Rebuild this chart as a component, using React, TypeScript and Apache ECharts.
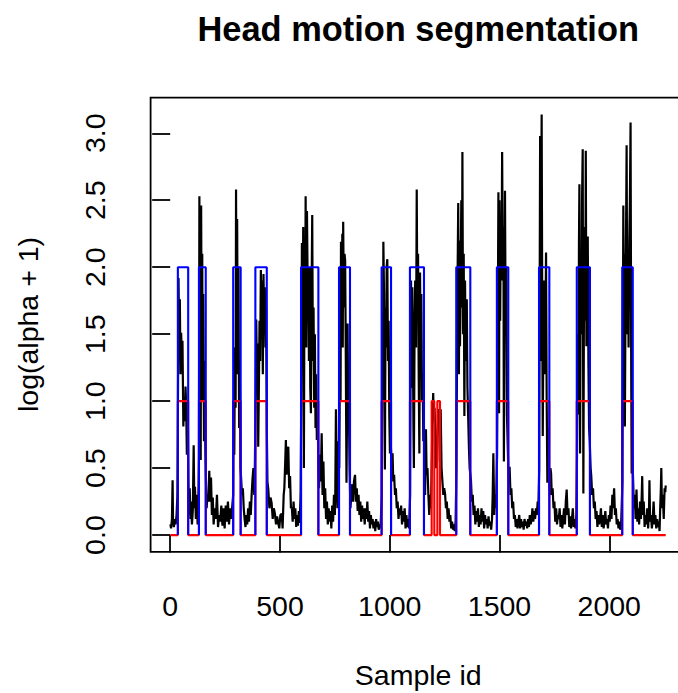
import React, { useEffect, useRef } from "react";
import * as echarts from "echarts";

// ---------- data ----------
const xTicks = [0, 500, 1000, 1500, 2000];
const yTicks = [0, 0.5, 1, 1.5, 2, 2.5, 3];

const firstSample = 1;
const lastSample = 2257;

// motion segments (blue boxes at 2, red at 1)
const motionStart = [35, 131, 287, 388, 596, 769, 963, 1092, 1303, 1488, 1680, 1852, 2059];
const motionEnd = [82, 162, 321, 440, 675, 819, 1006, 1156, 1367, 1540, 1727, 1912, 2107];

// segments flagged only in red
const redOnlyStart = [1191, 1217];
const redOnlyEnd = [1203, 1229];

// log(alpha + 1) per sample id
const logAlpha: [number, number][] = [
  [1, 0.08], [4, 0.05], [8, 0.12], [11, 0.41], [13, 0.1], [17, 0.06], [21, 0.12], [25, 0.08], [29, 0.15], [33, 0.3],
  [36, 1.2], [38, 1.92], [41, 1.4], [44, 1.76], [47, 1.2], [50, 1.51], [53, 1.3], [56, 1.45], [60, 0.81], [63, 1.0], [66, 0.85], [70, 1.11], [73, 0.95], [76, 0.6], [80, 0.95], [83, 0.4],
  [86, 0.15], [89, 0.35], [92, 0.12], [95, 0.25], [99, 0.08], [103, 0.18], [107, 0.67], [110, 0.2], [113, 0.36], [117, 0.12], [121, 0.3], [125, 0.08], [128, 0.2],
  [131, 0.6], [133, 2.53], [135, 1.2], [137, 2.2], [139, 0.56], [141, 2.46], [143, 1.5], [146, 2.1], [148, 1.0], [151, 1.8], [154, 0.7], [157, 1.3], [160, 0.66], [163, 0.4],
  [166, 0.2], [170, 0.3], [174, 0.25], [178, 0.48], [182, 0.25], [186, 0.43], [190, 0.15], [194, 0.28], [198, 0.08], [203, 0.2], [208, 0.12], [213, 0.3], [218, 0.06], [223, 0.15], [228, 0.1], [233, 0.22], [238, 0.07], [243, 0.2], [248, 0.05], [253, 0.22], [258, 0.1], [263, 0.25], [268, 0.08], [273, 0.2], [278, 0.12], [283, 0.22],
  [287, 0.3], [289, 1.0], [292, 0.6], [295, 1.4], [298, 0.95], [300, 2.58], [302, 1.5], [305, 2.36], [308, 1.2], [311, 2.0], [314, 0.8], [317, 1.3], [320, 0.5],
  [323, 0.43], [327, 0.3], [331, 0.35], [335, 0.2], [339, 0.12], [343, 0.06], [347, 0.15], [351, 0.08], [355, 0.2], [359, 0.1], [363, 0.25], [367, 0.15], [371, 0.3], [375, 0.42], [379, 0.5], [383, 0.3], [386, 0.55],
  [389, 1.0], [392, 1.61], [395, 1.2], [398, 1.43], [401, 0.66], [404, 1.1], [407, 1.6], [410, 1.3], [413, 1.98], [416, 1.5], [419, 1.9], [422, 1.2], [425, 1.95], [428, 1.6], [431, 1.85], [434, 1.4], [437, 1.7], [440, 0.8],
  [443, 0.4], [447, 0.34], [452, 0.2], [457, 0.28], [462, 0.24], [467, 0.12], [472, 0.2], [477, 0.16], [482, 0.08], [487, 0.14], [492, 0.09], [497, 0.05], [502, 0.15], [508, 0.16], [512, 0.05], [517, 0.3], [520, 0.35], [524, 0.55], [527, 0.71], [530, 0.45], [534, 0.62], [538, 0.66], [542, 0.35], [546, 0.44], [550, 0.2], [554, 0.21], [558, 0.1], [562, 0.25], [566, 0.12], [570, 0.2], [574, 0.06], [578, 0.15], [582, 0.07], [586, 0.18], [590, 0.09], [594, 0.3],
  [597, 1.0], [600, 2.18], [603, 1.5], [606, 2.3], [609, 0.5], [612, 2.2], [615, 1.7], [617, 2.53], [620, 1.4], [623, 2.42], [626, 1.9], [629, 2.0], [632, 1.3], [635, 2.0], [638, 1.1], [641, 0.91], [644, 1.8], [647, 2.39], [650, 1.3], [653, 1.7], [656, 0.95], [659, 1.5], [662, 0.8], [665, 1.2], [668, 0.71], [672, 0.9], [675, 0.5],
  [678, 0.35], [682, 0.6], [686, 0.4], [690, 0.76], [694, 0.3], [698, 0.55], [702, 0.2], [706, 0.35], [710, 0.12], [714, 0.25], [718, 0.08], [722, 0.2], [726, 0.1], [730, 0.18], [734, 0.05], [738, 0.22], [742, 0.1], [746, 0.3], [750, 0.15], [752, 0.3], [755, 0.94], [758, 0.55], [762, 0.2], [766, 0.7],
  [770, 0.5], [773, 1.2], [776, 1.0], [778, 2.19], [781, 1.6], [784, 2.25], [786, 1.4], [788, 2.34], [791, 1.7], [794, 2.1], [797, 2.05], [800, 1.3], [803, 0.39], [806, 1.0], [808, 1.58], [811, 0.84], [814, 0.95], [817, 0.5],
  [821, 0.2], [825, 0.3], [829, 0.38], [833, 0.25], [837, 0.4], [842, 0.45], [846, 0.25], [850, 0.35], [854, 0.18], [858, 0.3], [862, 0.15], [866, 0.25], [870, 0.1], [874, 0.22], [878, 0.12], [882, 0.2], [886, 0.08], [890, 0.2], [894, 0.12], [898, 0.25], [902, 0.1], [906, 0.18], [910, 0.05], [914, 0.15], [918, 0.08], [922, 0.12], [926, 0.05], [930, 0.1], [934, 0.03], [938, 0.12], [942, 0.06], [946, 0.1], [950, 0.04], [954, 0.08], [958, 0.05],
  [964, 0.3], [967, 1.5], [969, 1.0], [971, 2.19], [974, 1.8], [976, 1.2], [978, 0.49], [981, 1.7], [984, 1.4], [986, 2.0], [989, 2.06], [992, 1.3], [995, 1.6], [998, 0.9], [1001, 0.61], [1004, 0.7],
  [1010, 0.5], [1013, 0.61], [1016, 0.4], [1020, 0.45], [1024, 0.3], [1028, 0.35], [1032, 0.2], [1036, 0.25], [1040, 0.12], [1044, 0.2], [1048, 0.15], [1052, 0.22], [1056, 0.08], [1060, 0.18], [1064, 0.1], [1068, 0.2], [1072, 0.05], [1076, 0.15], [1080, 0.06], [1084, 0.12], [1088, 0.05],
  [1093, 0.3], [1095, 1.2], [1097, 1.9], [1100, 1.1], [1103, 1.85], [1106, 1.3], [1108, 0.8], [1110, 0.5], [1113, 1.5], [1116, 1.9], [1120, 1.4], [1123, 2.58], [1126, 1.6], [1129, 2.1], [1132, 1.2], [1135, 0.61], [1138, 1.96], [1141, 1.4], [1144, 1.8], [1147, 1.0], [1150, 1.2], [1153, 0.7], [1156, 0.8],
  [1158, 0.6], [1161, 0.3], [1165, 0.79], [1168, 0.45], [1172, 0.5], [1176, 0.3], [1180, 0.15], [1184, 0.3], [1188, 0.2], [1192, 0.6], [1195, 0.9], [1198, 1.06], [1201, 0.85], [1204, 0.95], [1207, 0.79], [1210, 0.5], [1213, 0.7], [1216, 0.55], [1220, 0.9], [1224, 0.94], [1228, 0.85], [1232, 0.94], [1236, 0.5], [1240, 0.4], [1244, 0.3], [1248, 0.35], [1252, 0.31], [1256, 0.2], [1260, 0.25], [1264, 0.12], [1268, 0.2], [1272, 0.1], [1276, 0.15], [1280, 0.05], [1284, 0.1], [1288, 0.04], [1292, 0.08], [1296, 0.03], [1300, 0.1],
  [1304, 0.5], [1307, 1.6], [1310, 2.1], [1312, 2.48], [1315, 1.2], [1318, 2.2], [1320, 1.41], [1323, 1.9], [1326, 2.5], [1329, 1.7], [1331, 2.86], [1334, 1.5], [1337, 2.1], [1340, 0.89], [1343, 1.9], [1346, 1.3], [1349, 1.6], [1351, 1.76], [1354, 1.1], [1357, 0.9], [1361, 0.64], [1364, 0.5],
  [1370, 0.41], [1374, 0.25], [1378, 0.3], [1382, 0.15], [1386, 0.22], [1390, 0.08], [1394, 0.18], [1398, 0.1], [1402, 0.2], [1406, 0.06], [1410, 0.15], [1414, 0.08], [1418, 0.2], [1422, 0.1], [1426, 0.18], [1430, 0.05], [1434, 0.15], [1438, 0.08], [1442, 0.12], [1446, 0.05], [1450, 0.14], [1454, 0.07], [1458, 0.1], [1462, 0.04], [1466, 0.12], [1469, 0.3], [1472, 0.61], [1476, 0.15], [1480, 0.3], [1484, 0.2],
  [1489, 0.6], [1492, 1.5], [1495, 2.56], [1498, 0.91], [1500, 2.5], [1503, 1.6], [1506, 2.4], [1509, 1.9], [1512, 2.86], [1515, 2.0], [1518, 2.3], [1520, 0.55], [1523, 1.8], [1525, 2.57], [1528, 1.5], [1531, 2.0], [1534, 0.9], [1537, 0.7], [1540, 0.5],
  [1543, 0.4], [1546, 0.51], [1550, 0.3], [1554, 0.35], [1558, 0.2], [1562, 0.25], [1566, 0.12], [1570, 0.15], [1574, 0.06], [1578, 0.12], [1582, 0.05], [1586, 0.1], [1590, 0.15], [1594, 0.05], [1598, 0.12], [1602, 0.06], [1606, 0.1], [1610, 0.04], [1614, 0.12], [1618, 0.07], [1622, 0.1], [1626, 0.05], [1630, 0.12], [1634, 0.06], [1638, 0.15], [1642, 0.08], [1646, 0.12], [1650, 0.2], [1654, 0.1], [1658, 0.18], [1662, 0.12], [1666, 0.2], [1670, 0.15], [1674, 0.25], [1677, 0.2],
  [1681, 0.5], [1683, 1.8], [1685, 2.98], [1688, 1.3], [1690, 2.5], [1692, 3.14], [1695, 1.5], [1697, 0.74], [1700, 1.6], [1703, 1.9], [1706, 1.2], [1709, 1.5], [1712, 2.11], [1715, 1.0], [1718, 0.39], [1721, 0.8], [1724, 0.5],
  [1729, 0.3], [1732, 0.5], [1735, 0.46], [1738, 0.3], [1742, 0.35], [1746, 0.2], [1750, 0.25], [1754, 0.1], [1758, 0.2], [1762, 0.08], [1766, 0.15], [1770, 0.12], [1774, 0.2], [1778, 0.06], [1782, 0.15], [1786, 0.05], [1790, 0.12], [1794, 0.2], [1798, 0.08], [1802, 0.25], [1806, 0.34], [1810, 0.15], [1814, 0.2], [1818, 0.06], [1822, 0.14], [1826, 0.05], [1830, 0.12], [1834, 0.2], [1838, 0.06], [1842, 0.12], [1846, 0.05], [1850, 0.15],
  [1853, 0.6], [1856, 1.5], [1859, 0.9], [1862, 2.2], [1864, 2.62], [1867, 0.61], [1870, 2.0], [1873, 1.5], [1876, 2.5], [1879, 2.88], [1882, 0.31], [1885, 1.9], [1888, 2.3], [1891, 1.6], [1893, 2.87], [1896, 1.41], [1899, 2.0], [1902, 2.23], [1905, 1.3], [1908, 0.8], [1911, 0.7],
  [1915, 0.5], [1918, 0.44], [1922, 0.3], [1926, 0.35], [1930, 0.2], [1934, 0.25], [1938, 0.12], [1942, 0.18], [1946, 0.06], [1950, 0.15], [1954, 0.08], [1958, 0.12], [1962, 0.2], [1966, 0.06], [1970, 0.15], [1974, 0.05], [1978, 0.1], [1982, 0.18], [1986, 0.08], [1990, 0.12], [1994, 0.05], [1998, 0.15], [2002, 0.1], [2006, 0.22], [2010, 0.12], [2014, 0.3], [2018, 0.2], [2022, 0.35], [2026, 0.15], [2030, 0.2], [2034, 0.08], [2038, 0.12], [2042, 0.05], [2046, 0.1], [2050, 0.04], [2054, 0.08],
  [2060, 0.4], [2062, 1.5], [2064, 2.46], [2067, 1.2], [2069, 2.1], [2071, 0.81], [2074, 1.8], [2077, 2.4], [2079, 2.91], [2082, 1.5], [2085, 2.0], [2088, 1.4], [2091, 2.2], [2094, 2.5], [2097, 3.08], [2100, 1.2], [2102, 0.46], [2105, 0.6],
  [2109, 0.39], [2112, 0.2], [2116, 0.3], [2120, 0.12], [2124, 0.34], [2128, 0.1], [2132, 0.2], [2136, 0.08], [2140, 0.25], [2144, 0.12], [2148, 0.3], [2150, 0.44], [2153, 0.15], [2157, 0.25], [2161, 0.06], [2165, 0.15], [2169, 0.08], [2173, 0.2], [2177, 0.05], [2181, 0.18], [2183, 0.41], [2186, 0.1], [2190, 0.15], [2194, 0.05], [2198, 0.12], [2202, 0.25], [2206, 0.08], [2210, 0.15], [2214, 0.05], [2218, 0.12], [2222, 0.06], [2226, 0.1], [2229, 0.03], [2232, 0.2], [2235, 0.35], [2237, 0.5], [2240, 0.2], [2244, 0.3], [2248, 0.12], [2252, 0.35], [2255, 0.32], [2257, 0.37],
];

const FONT = "'Liberation Sans', Arial, Helvetica, sans-serif";

function buildRed(): (number | string)[][] {
  const intervals: [number, number][] = motionStart.map((s, i) => [s, motionEnd[i]] as [number, number]);
  redOnlyStart.forEach((s, i) => intervals.push([s, redOnlyEnd[i]]));
  intervals.sort((a, b) => a[0] - b[0]);
  const pts: (number | string)[][] = [[firstSample, 0]];
  intervals.forEach(([s, e]) => {
    pts.push([s, 0], [s, 1], [e, 1], [e, 0]);
  });
  pts.push([lastSample, 0]);
  return pts;
}

function buildBlue(): (number | string)[][] {
  const pts: (number | string)[][] = [];
  motionStart.forEach((s, i) => {
    const e = motionEnd[i];
    pts.push([s, 0], [s, 2], [e, 2], [e, 0], [e, "-"]);
  });
  return pts;
}

export default function App() {
  const ref = useRef<HTMLDivElement>(null);
  useEffect(() => {
    if (!ref.current) return;
    const chart = echarts.init(ref.current, undefined, { renderer: "svg" });
    const option: any = {
      animation: false,
      backgroundColor: "#fff",
      grid: {
        left: 150.6,
        right: -7.5,
        top: 97.7,
        bottom: 141.1,
        show: true,
        borderColor: "#000",
        borderWidth: 1.8,
        backgroundColor: "transparent",
        containLabel: false,
        outerBoundsMode: "none",
      },
      xAxis: {
        type: "value",
        min: -89.2,
        max: 2347.2,
        axisLine: { show: false },
        splitLine: { show: false },
        axisTick: {
          show: true,
          customValues: xTicks,
          length: 17.5,
          lineStyle: { color: "#000", width: 1.8 },
        },
        axisLabel: {
          customValues: xTicks,
          fontSize: 28.5,
          fontFamily: FONT,
          color: "#000",
          margin: 40,
          formatter: (v: number) => String(v),
        },
      },
      yAxis: {
        type: "value",
        min: -0.1256,
        max: 3.2656,
        axisLine: { show: false },
        splitLine: { show: false },
        axisTick: {
          show: true,
          customValues: yTicks,
          length: 18,
          lineStyle: { color: "#000", width: 1.8 },
        },
        axisLabel: {
          customValues: yTicks,
          rotate: 90,
          fontSize: 28.5,
          fontFamily: FONT,
          color: "#000",
          margin: 41,
          formatter: (v: number) => v.toFixed(1),
        },
      },
      series: [
        {
          type: "line",
          data: logAlpha,
          symbol: "none",
          silent: true,
          lineStyle: { color: "#000", width: 2.2 },
          z: 2,
        },
        {
          type: "line",
          data: buildRed(),
          symbol: "none",
          silent: true,
          lineStyle: { color: "#ff0000", width: 2.1 },
          z: 3,
        },
        {
          type: "line",
          data: buildBlue(),
          symbol: "none",
          silent: true,
          connectNulls: false,
          lineStyle: { color: "#0000ff", width: 2.1 },
          z: 4,
        },
      ],
      graphic: [
        {
          type: "text",
          x: 418.2,
          y: 29,
          style: {
            text: "Head motion segmentation",
            font: `bold 34.4px ${FONT}`,
            fill: "#000",
            align: "center",
            verticalAlign: "middle",
            textAlign: "center",
            textVerticalAlign: "middle",
          },
        },
        {
          type: "text",
          x: 418.2,
          y: 675,
          style: {
            text: "Sample id",
            font: `28.5px ${FONT}`,
            fill: "#000",
            align: "center",
            verticalAlign: "middle",
            textAlign: "center",
            textVerticalAlign: "middle",
          },
        },
        {
          type: "text",
          x: 28,
          y: 324.5,
          rotation: Math.PI / 2,
          style: {
            text: "log(alpha + 1)",
            font: `28.5px ${FONT}`,
            fill: "#000",
            align: "center",
            verticalAlign: "middle",
            textAlign: "center",
            textVerticalAlign: "middle",
          },
        },
      ],
    };
    chart.setOption(option);
    return () => chart.dispose();
  }, []);
  return (
    <div
      ref={ref}
      style={{ position: "fixed", left: 0, top: 0, width: 678, height: 693, overflow: "hidden" }}
    />
  );
}
